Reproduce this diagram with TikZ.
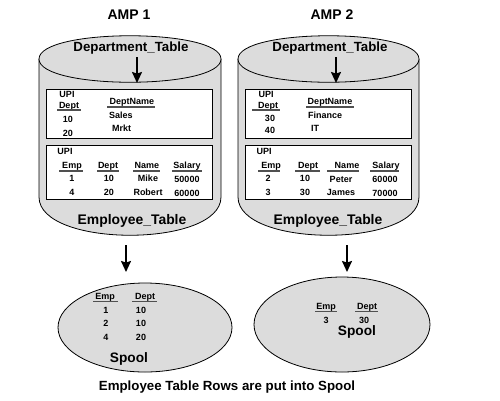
\documentclass[tikz,border=0pt]{standalone}
\usepackage{fontspec}
\setmainfont{Liberation Sans}
\usetikzlibrary{arrows.meta,shapes.geometric}
\definecolor{cylgray}{RGB}{220,220,220}
\definecolor{ulgray}{RGB}{80,80,80}
\tikzset{
  tb/.style={font=\fontsize{9}{10}\selectfont\bfseries, inner sep=0pt, text height=6.4pt, text depth=0pt},
  big/.style={font=\fontsize{13.3}{16}\selectfont\bfseries, inner sep=0pt, text height=9.5pt, text depth=0pt},
  bigr/.style={font=\fontsize{13.9}{16}\selectfont\bfseries, inner sep=0pt, text height=10pt, text depth=0pt},
  amp/.style={font=\fontsize{14}{16}\selectfont\bfseries, inner sep=0pt, text height=10pt, text depth=0pt},
  spl/.style={font=\fontsize{13.7}{16}\selectfont\bfseries, inner sep=0pt, text height=9.8pt, text depth=0pt},
  captext/.style={font=\fontsize{13.3}{15}\selectfont\bfseries, inner sep=0pt, text height=9.5pt, text depth=0pt},
  tbox/.style={draw=black, fill=white, line width=0.9pt, inner sep=0pt, outer sep=0pt, minimum width=166pt},
  ul/.style={draw=ulgray, line width=1.2pt},
  arr/.style={line width=1.6pt, -{Stealth[length=11pt,width=10pt,inset=1.5pt]}},
  spool/.style={ellipse, draw=black, fill=cylgray, line width=0.8pt, inner sep=0pt},
}
\begin{document}
\begin{tikzpicture}[x=1pt,y=-1pt]
\useasboundingbox (0,0) rectangle (500,400);
\fill[white] (0,0) rectangle (500,400);

% ---------- Cylinder 1 ----------
\fill[cylgray] (39,59) -- (39,197) .. controls (39,248) and (221,248) .. (221,197) -- (221,59) -- cycle;
\draw[line width=0.8pt] (39,59) -- (39,197) .. controls (39,248) and (221,248) .. (221,197) -- (221,59);
\draw[fill=cylgray, line width=0.8pt] (39,59) .. controls (39,28) and (221,28) .. (221,59)
   .. controls (221,90) and (39,90) .. cycle;

% ---------- Cylinder 2 ----------
\fill[cylgray] (238,59) -- (238,197) .. controls (238,248) and (419,248) .. (419,197) -- (419,59) -- cycle;
\draw[line width=0.8pt] (238,59) -- (238,197) .. controls (238,248) and (419,248) .. (419,197) -- (419,59);
\draw[fill=cylgray, line width=0.8pt] (238,59) .. controls (238,28) and (419,28) .. (419,59)
   .. controls (419,90) and (238,90) .. cycle;

% titles
\node[amp] (amp1) at (129,14) {AMP 1};
\node[amp] (amp2) at (332,14) {AMP 2};
\node[big] (dep1) at (131,46.5) {Department\_Table};
\node[big] (dep2) at (330,46.5) {Department\_Table};
\node[bigr] (emp1) at (132,219) {Employee\_Table};
\node[bigr] (emp2) at (328,219) {Employee\_Table};

% arrows inside cylinders
\coordinate (t1s) at (137,57); \coordinate (t1e) at (137,83);
\coordinate (t2s) at (336,57); \coordinate (t2e) at (336,83);
\draw[arr] (t1s) -- (t1e);
\draw[arr] (t2s) -- (t2e);

% ---------- boxes ----------
\node[tbox, minimum height=49pt] (db1) at (129,113.5) {};
\node[tbox, minimum height=54pt] (eb1) at (129,172) {};
\node[tbox, minimum height=49pt] (db2) at (328,113.5) {};
\node[tbox, minimum height=54pt] (eb2) at (328,172) {};

% Dept table 1
\node[tb] (d1upi) at (67,94) {UPI};
\node[tb] (d1dept) at (69,105) {Dept};
\draw[ul] (57,110) -- (81,110);
\node[tb] (d1a) at (68,119) {10};
\node[tb] (d1b) at (68,133) {20};
\node[tb] (d1name) at (132,101) {DeptName};
\draw[ul] (107,107) -- (155,107);
\node[tb, anchor=west] (d1s) at (109,115) {Sales};
\node[tb, anchor=west] (d1m) at (112,128) {Mrkt};

% Emp table 1
\node[tb] (e1upi) at (65,151) {UPI};
\node[tb] (e1h1) at (72,165) {Emp};
\node[tb] (e1h2) at (108,165) {Dept};
\node[tb] (e1h3) at (147,165) {Name};
\node[tb] (e1h4) at (187,165) {Salary};
\draw[ul] (59,171) -- (83,171);
\draw[ul] (97,171) -- (119,171);
\draw[ul] (133,171) -- (160,171);
\draw[ul] (172,171) -- (202,171);
\node[tb] (e1a1) at (72,178) {1};
\node[tb] (e1a2) at (109,178) {10};
\node[tb] (e1a3) at (148,178) {Mike};
\node[tb] (e1a4) at (187,179) {50000};
\node[tb] (e1b1) at (72,192) {4};
\node[tb] (e1b2) at (109,192) {20};
\node[tb] (e1b3) at (148,192) {Robert};
\node[tb] (e1b4) at (187,193) {60000};

% Dept table 2
\node[tb] (d2upi) at (266,94) {UPI};
\node[tb] (d2dept) at (268,105) {Dept};
\draw[ul] (252,110) -- (280,110);
\node[tb] (d2a) at (270,118) {30};
\node[tb] (d2b) at (270,130) {40};
\node[tb] (d2name) at (330,101) {DeptName};
\draw[ul] (306,107) -- (354,107);
\node[tb, anchor=west] (d2f) at (308,115) {Finance};
\node[tb, anchor=west] (d2i) at (311,128) {IT};

% Emp table 2
\node[tb] (e2upi) at (264,151) {UPI};
\node[tb] (e2h1) at (271,165) {Emp};
\node[tb] (e2h2) at (308,165) {Dept};
\node[tb] (e2h3) at (347,165) {Name};
\node[tb] (e2h4) at (386,165) {Salary};
\draw[ul] (258,171) -- (280,171);
\draw[ul] (295,171) -- (320,171);
\draw[ul] (327,171) -- (359,171);
\draw[ul] (370,171) -- (399,171);
\node[tb] (e2a1) at (268,178) {2};
\node[tb] (e2a2) at (305,178) {10};
\node[tb] (e2a3) at (341,179) {Peter};
\node[tb] (e2a4) at (385,179) {60000};
\node[tb] (e2b1) at (268,192) {3};
\node[tb] (e2b2) at (305,192) {30};
\node[tb] (e2b3) at (341,192) {James};
\node[tb] (e2b4) at (385,193) {70000};

% ---------- arrows to spool ----------
\coordinate (b1s) at (126,245); \coordinate (b1e) at (126,272);
\coordinate (b2s) at (347,245); \coordinate (b2e) at (347,272);
\draw[arr] (b1s) -- (b1e);
\draw[arr] (b2s) -- (b2e);

% ---------- spools ----------
\node[spool, minimum width=174pt, minimum height=89pt] (sp1) at (145,327.5) {};
\node[spool, minimum width=176pt, minimum height=95pt] (sp2) at (342,324.5) {};

\node[tb] (s1h1) at (105,296) {Emp};
\node[tb] (s1h2) at (145,296) {Dept};
\draw[ul] (93,301.5) -- (118,301.5);
\draw[ul] (132,301.5) -- (157,301.5);
\node[tb] (s1a1) at (106,310) {1};
\node[tb] (s1a2) at (141,310) {10};
\node[tb] (s1b1) at (106,323) {2};
\node[tb] (s1b2) at (141,323) {10};
\node[tb] (s1c1) at (106,337) {4};
\node[tb] (s1c2) at (141,337) {20};
\node[spl] (s1t) at (129,358) {Spool};

\node[tb] (s2h1) at (326,306) {Emp};
\node[tb] (s2h2) at (367,306) {Dept};
\draw[ul] (315,311.5) -- (337,311.5);
\draw[ul] (355,311.5) -- (378,311.5);
\node[tb] (s2a1) at (326,320) {3};
\node[tb] (s2a2) at (364,320) {30};
\node[spl] (s2t) at (357,331) {Spool};

% caption
\node[captext] (capt) at (227,386) {Employee Table Rows are put into Spool};
\end{tikzpicture}
\end{document}
